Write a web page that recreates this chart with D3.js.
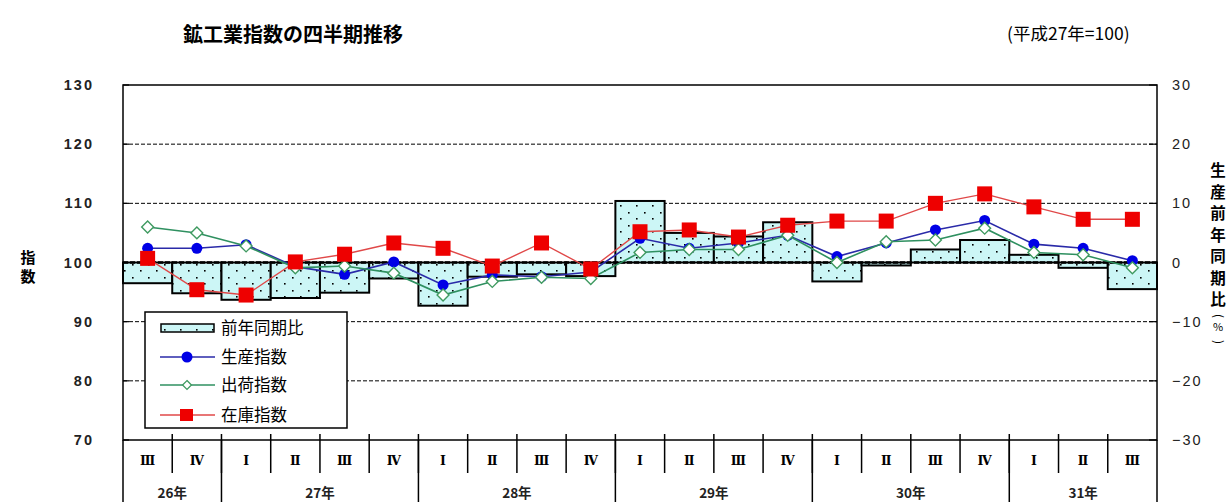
<!DOCTYPE html>
<html><head><meta charset="utf-8">
<script src="https://cdn.jsdelivr.net/npm/d3@7"></script>
<style>body{margin:0;background:#fff}svg{display:block}</style>
</head><body>
<svg id="c" width="1231" height="502"></svg>
<script>
const quarters = ["Ⅲ","Ⅳ","Ⅰ","Ⅱ","Ⅲ","Ⅳ","Ⅰ","Ⅱ","Ⅲ","Ⅳ","Ⅰ","Ⅱ","Ⅲ","Ⅳ","Ⅰ","Ⅱ","Ⅲ","Ⅳ","Ⅰ","Ⅱ","Ⅲ"];
const years = ["26年","27年","28年","29年","30年","31年"];
const yearSpans = [2,4,4,4,4,3];
const yoy  = [-3.5,-5.2,-6.3,-6.0,-5.1,-2.7,-7.3,-2.4,-2.0,-2.3,10.4,5.0,4.4,6.8,-3.2,-0.5,2.2,3.8,1.3,-0.9,-4.5];
const prod = [102.4,102.4,103.0,99.3,98.0,100.1,96.2,97.9,97.6,98.4,104.1,102.4,103.3,104.6,101.0,103.3,105.5,107.1,103.1,102.4,100.3];
const ship = [106.0,105.0,102.8,99.1,99.4,98.2,94.5,96.8,97.5,97.3,101.7,102.2,102.2,104.6,100.0,103.5,103.8,105.8,101.7,101.3,99.1];
const inv  = [100.7,95.4,94.5,100.1,101.4,103.3,102.4,99.4,103.3,98.9,105.2,105.5,104.3,106.3,107.0,107.0,110.0,111.6,109.4,107.3,107.3];
const leftTicks = [70,80,90,100,110,120,130];
const rightTicks = [-30,-20,-10,0,10,20,30];
const legendLabels = ["前年同期比","生産指数","出荷指数","在庫指数"];

const svg = d3.select("#c");
const L=123, R=1157, T=85, B=440;
const x = d3.scaleBand().domain(d3.range(quarters.length)).range([L,R]).padding(0);
const yL = d3.scaleLinear().domain([70,130]).range([B,T]);
const yR = d3.scaleLinear().domain([-30,30]).range([B,T]);
const cx = i => x(i)+x.bandwidth()/2;

// pattern
const defs = svg.append("defs");
const pat = defs.append("pattern").attr("id","dots").attr("patternUnits","userSpaceOnUse")
  .attr("width",16).attr("height",13);
pat.append("rect").attr("width",16).attr("height",13).attr("fill","#ccf6f6");
pat.append("rect").attr("x",4).attr("y",4).attr("width",1.6).attr("height",1.6).attr("fill","#000");
pat.append("rect").attr("x",12).attr("y",10).attr("width",1.6).attr("height",1.6).attr("fill","#000");

// title
svg.append("text").attr("x",183).attr("y",42).attr("font-family","Noto Sans CJK JP").attr("font-weight","bold")
  .attr("font-size",20).attr("fill","#000").text("鉱工業指数の四半期推移");
svg.append("text").attr("x",1007).attr("y",40).attr("font-family","Noto Sans CJK JP")
  .attr("font-size",17.5).attr("fill","#000").text("(平成27年=100)");

// gridlines
svg.append("g").selectAll("line").data(leftTicks.filter(v=>v!==70&&v!==130&&v!==100)).join("line")
  .attr("x1",L).attr("x2",R).attr("y1",d=>yL(d)).attr("y2",d=>yL(d))
  .attr("stroke","#000").attr("stroke-width",1).attr("stroke-dasharray","4,2");

// bars
svg.append("g").selectAll("rect").data(yoy).join("rect")
  .attr("x",(d,i)=>x(i)).attr("width",x.bandwidth())
  .attr("y",d=>Math.min(yR(d),yR(0))).attr("height",d=>Math.abs(yR(d)-yR(0)))
  .attr("fill","url(#dots)").attr("stroke","#000").attr("stroke-width",2);

// 100 line
svg.append("line").attr("x1",L).attr("x2",R).attr("y1",yL(100)).attr("y2",yL(100))
  .attr("stroke","#000").attr("stroke-width",2.5).attr("stroke-dasharray","5,2");

// frame
svg.append("rect").attr("x",L).attr("y",T).attr("width",R-L).attr("height",B-T)
  .attr("fill","none").attr("stroke","#000").attr("stroke-width",1.5);
svg.append("line").attr("x1",L).attr("x2",L).attr("y1",B).attr("y2",502).attr("stroke","#000").attr("stroke-width",1.5);
svg.append("line").attr("x1",R).attr("x2",R).attr("y1",B).attr("y2",502).attr("stroke","#000").attr("stroke-width",1.5);

// axis ticks
svg.append("g").selectAll("line").data(leftTicks).join("line")
  .attr("x1",L).attr("x2",L+6).attr("y1",d=>yL(d)).attr("y2",d=>yL(d)).attr("stroke","#000").attr("stroke-width",1.2);
svg.append("g").selectAll("line").data(rightTicks).join("line")
  .attr("x1",R-8).attr("x2",R).attr("y1",d=>yR(d)).attr("y2",d=>yR(d)).attr("stroke","#000").attr("stroke-width",1.2);

svg.append("g").selectAll("text").data(leftTicks).join("text")
  .attr("x",94).attr("y",d=>yL(d)+5).attr("text-anchor","end")
  .attr("font-family","Liberation Sans").attr("font-weight","bold").attr("font-size",14.5)
  .attr("letter-spacing",2).attr("fill","#222").text(d=>d);
svg.append("g").selectAll("text").data(rightTicks).join("text")
  .attr("x",1172).attr("y",d=>yR(d)+5).attr("text-anchor","start")
  .attr("font-family","Liberation Sans").attr("font-size",14.5)
  .attr("letter-spacing",2).attr("fill","#222").text(d=>d===0?"0":(d<0?"−"+(-d):d));

// axis titles
svg.append("g").selectAll("text").data(["指","数"]).join("text")
  .attr("x",28).attr("y",(d,i)=>263+i*19).attr("text-anchor","middle")
  .attr("font-family","Noto Sans CJK JP").attr("font-weight","bold").attr("font-size",15).text(d=>d);
const rt = ["生","産","前","年","同","期","比"];
svg.append("g").selectAll("text").data(rt).join("text")
  .attr("x",1218).attr("y",(d,i)=>176+i*21.5).attr("text-anchor","middle")
  .attr("font-family","Noto Sans CJK JP").attr("font-weight","bold")
  .attr("font-size",15.5).text(d=>d);
const rp = svg.append("g").attr("font-family","Noto Sans CJK JP").attr("font-size",12);
rp.append("text").attr("transform","translate(1218,316) rotate(90)").attr("text-anchor","middle").attr("dy","0.35em").text("(");
rp.append("text").attr("x",1218).attr("y",331).attr("text-anchor","middle").attr("font-size",11).text("%");
rp.append("text").attr("transform","translate(1218,342) rotate(90)").attr("text-anchor","middle").attr("dy","0.35em").text(")");

// category axis
svg.append("g").selectAll("line").data(d3.range(1,quarters.length)).join("line")
  .attr("x1",i=>x(i)).attr("x2",i=>x(i)).attr("y1",434).attr("y2",473)
  .attr("stroke","#000").attr("stroke-width",1.5);
let acc=0; const bounds=[];
yearSpans.forEach(s=>{bounds.push([acc,acc+s]);acc+=s;});
svg.append("g").selectAll("line").data(bounds.slice(1)).join("line")
  .attr("x1",b=>x(b[0])).attr("x2",b=>x(b[0])).attr("y1",B).attr("y2",502)
  .attr("stroke","#000").attr("stroke-width",1.5);
svg.append("g").selectAll("text").data(quarters).join("text")
  .attr("x",(d,i)=>cx(i)).attr("y",465).attr("text-anchor","middle")
  .attr("font-family","DejaVu Serif").attr("font-weight","bold").attr("font-size",12.5).text(d=>d);
svg.append("g").selectAll("text").data(years).join("text")
  .attr("x",(d,i)=>(x(bounds[i][0])+x(bounds[i][1]-1)+x.bandwidth())/2).attr("y",498).attr("text-anchor","middle")
  .attr("font-family","Noto Sans CJK JP").attr("font-weight","bold").attr("font-size",13.5).attr("fill","#222").text(d=>d);

// lines
const line = d3.line().x((d,i)=>cx(i)).y(d=>yL(d));
svg.append("path").datum(prod).attr("d",line).attr("fill","none").attr("stroke","#2a2aa8").attr("stroke-width",1.6);
svg.append("g").selectAll("circle").data(prod).join("circle")
  .attr("cx",(d,i)=>cx(i)).attr("cy",d=>yL(d)).attr("r",5.5).attr("fill","#0000e6");
svg.append("path").datum(ship).attr("d",line).attr("fill","none").attr("stroke","#2f9060").attr("stroke-width",1.6);
svg.append("g").selectAll("path.dm").data(ship).join("path").attr("class","dm")
  .attr("d",d3.symbol().type(d3.symbolDiamond2).size(90))
  .attr("transform",(d,i)=>`translate(${cx(i)},${yL(d)})`)
  .attr("fill","#fff").attr("stroke","#3f9a60").attr("stroke-width",1.4);
svg.append("path").datum(inv).attr("d",line).attr("fill","none").attr("stroke","#e04848").attr("stroke-width",1.4);
svg.append("g").selectAll("rect").data(inv).join("rect")
  .attr("x",(d,i)=>cx(i)-7.5).attr("y",d=>yL(d)-7.5).attr("width",15).attr("height",15).attr("fill","#ee0000");

// legend
const lg = svg.append("g");
lg.append("rect").attr("x",145).attr("y",312).attr("width",202).attr("height",116)
  .attr("fill","#fff").attr("stroke","#000").attr("stroke-width",1.5);
const ly = [328,357,385,415];
lg.append("rect").attr("x",161).attr("y",ly[0]-4).attr("width",53).attr("height",8)
  .attr("fill","url(#dots)").attr("stroke","#000").attr("stroke-width",1.5);
lg.append("line").attr("x1",160).attr("x2",215).attr("y1",ly[1]).attr("y2",ly[1]).attr("stroke","#2a2aa8").attr("stroke-width",1.6);
lg.append("circle").attr("cx",187).attr("cy",ly[1]).attr("r",5.5).attr("fill","#0000e6");
lg.append("line").attr("x1",160).attr("x2",215).attr("y1",ly[2]).attr("y2",ly[2]).attr("stroke","#2f9060").attr("stroke-width",1.6);
lg.append("path").attr("d",d3.symbol().type(d3.symbolDiamond2).size(50)).attr("transform",`translate(187,${ly[2]})`)
  .attr("fill","#fff").attr("stroke","#3f9a60").attr("stroke-width",1.3);
lg.append("line").attr("x1",160).attr("x2",215).attr("y1",ly[3]).attr("y2",ly[3]).attr("stroke","#e04848").attr("stroke-width",1.4);
lg.append("rect").attr("x",180).attr("y",ly[3]-6).attr("width",13).attr("height",12).attr("fill","#ee0000");
lg.selectAll("text").data(legendLabels).join("text")
  .attr("x",221).attr("y",(d,i)=>ly[i]+6).attr("font-family","Noto Sans CJK JP").attr("font-size",16.5)
  .attr("fill","#000").text(d=>d);
</script>
</body></html>
